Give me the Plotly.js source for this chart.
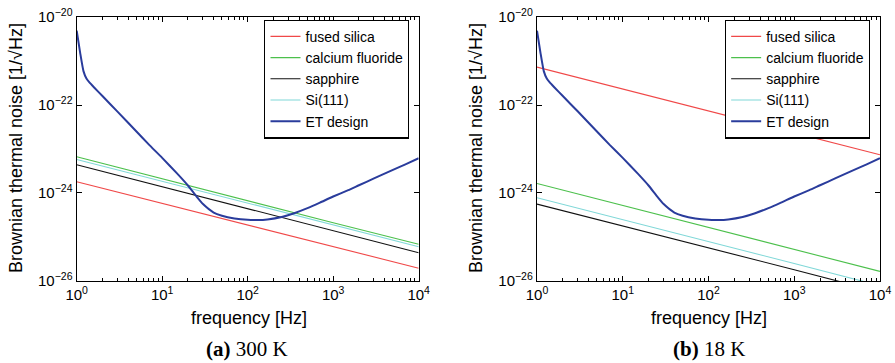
<!DOCTYPE html>
<html>
<head>
<meta charset="utf-8">
<script src="https://cdn.plot.ly/plotly-3.0.1.min.js"></script>
<style>html,body{margin:0;padding:0;background:#fff;}#chart{width:895px;height:363px;}</style>
</head>
<body>
<div id="chart"></div>
<script>
// ---- data ----
const seriesNames = ["fused silica", "calcium fluoride", "sapphire", "Si(111)", "ET design"];
const freqLine = [1, 10, 100, 1000, 10000];

// (a) 300 K
const fusedSilica300 = [1.8e-24, 5.8e-25, 1.9e-25, 6.0e-26, 1.95e-26];
const calciumFluoride300 = [6.7e-24, 2.1e-24, 6.7e-25, 2.1e-25, 6.8e-26];
const sapphire300 = [4.4e-24, 1.4e-24, 4.4e-25, 1.4e-25, 4.4e-26];
const si111_300 = [5.8e-24, 1.85e-24, 5.9e-25, 1.9e-25, 6.0e-26];

// (b) 18 K
const fusedSilica18 = [7.3e-22, 2.3e-22, 7.3e-23, 2.3e-23, 7.4e-24];
const calciumFluoride18 = [1.65e-24, 5.2e-25, 1.65e-25, 5.2e-26, 1.65e-26];
const sapphire18 = [5.6e-25, 1.8e-25, 5.6e-26, 1.8e-26, 5.6e-27];
const si111_18 = [7.8e-25, 2.5e-25, 7.8e-26, 2.5e-26, 7.8e-27];

// ET design sensitivity (same in both panels)
const freqET = [1, 1.1, 1.2, 1.3, 1.4, 1.6, 2, 3, 5, 7, 10, 15, 20, 25, 30, 40, 50, 70, 100, 130, 170, 250, 350, 500, 700, 1000, 1500, 2000, 3000, 5000, 7000, 10000];
const etDesign = [4.9e-21, 1.5e-21, 5.9e-22, 4.0e-22, 3.3e-22, 2.5e-22, 1.6e-22, 7.1e-23, 2.5e-23, 1.26e-23,
                  6.3e-24, 2.75e-24, 1.48e-24, 8.5e-25, 5.6e-25, 3.6e-25, 3.05e-25, 2.64e-25, 2.45e-25, 2.43e-25,
                  2.51e-25, 2.85e-25, 3.47e-25, 4.52e-25, 6.03e-25, 8.32e-25, 1.16e-24, 1.50e-24, 2.14e-24, 3.35e-24,
                  4.47e-24, 6.17e-24];

const xTickVals = [1, 10, 100, 1000, 10000];
const xTickText = ["10<sup>0</sup>", "10<sup>1</sup>", "10<sup>2</sup>", "10<sup>3</sup>", "10<sup>4</sup>"];
const yTickVals = [1e-26, 1e-24, 1e-22, 1e-20];
const yTickText = ["10<sup>−26</sup>", "10<sup>−24</sup>", "10<sup>−22</sup>", "10<sup>−20</sup>"];
const minorVals = [];
[1, 10, 100, 1000].forEach(d => { for (let k = 2; k <= 9; k++) minorVals.push(d * k); });

const colors = ["#f04848", "#4cc04c", "#111111", "#80d8d8", "#2a3c9c"];
const widths = [1.1, 1.1, 1.1, 1.1, 2];

function panel(vals, xa, ya, leg) {
  return vals.map((v, i) => ({
    x: i === 4 ? freqET : freqLine,
    y: v,
    name: seriesNames[i],
    type: "scatter",
    mode: "lines",
    line: {color: colors[i], width: widths[i], shape: i === 4 ? "spline" : "linear", smoothing: 0.5},
    xaxis: xa, yaxis: ya, legend: leg,
    hoverinfo: "x+y+name"
  }));
}

const traces = [].concat(
  panel([fusedSilica300, calciumFluoride300, sapphire300, si111_300, etDesign], "x", "y", "legend"),
  panel([fusedSilica18, calciumFluoride18, sapphire18, si111_18, etDesign], "x2", "y2", "legend2")
);

const tickFont = {family: "Liberation Sans, Arial, sans-serif", size: 15, color: "#000"};
const legFont = {family: "Liberation Sans, Arial, sans-serif", size: 14, color: "#000"};
function xAxis(domain, anchor) {
  return {
    type: "log", domain: domain, anchor: anchor, range: [0, 4],
    tickmode: "array", tickvals: xTickVals, ticktext: xTickText,
    ticks: "inside", ticklen: 5, tickwidth: 1, tickcolor: "#000",
    minor: {tickmode: "array", tickvals: minorVals, ticks: "inside", ticklen: 3, tickcolor: "#000", showgrid: false},
    showline: true, linecolor: "#000", linewidth: 1.2, mirror: "allticks",
    showgrid: false, zeroline: false, tickfont: tickFont
  };
}
function yAxis(domain, anchor) {
  return {
    type: "log", domain: domain, anchor: anchor, range: [-26, -20],
    tickmode: "array", tickvals: yTickVals, ticktext: yTickText,
    ticks: "inside", ticklen: 5, tickwidth: 1, tickcolor: "#000",
    showline: true, linecolor: "#000", linewidth: 1.2, mirror: "allticks",
    showgrid: false, zeroline: false, tickfont: tickFont
  };
}
const legendStyle = (x) => ({
  x: x, y: 0.946, xanchor: "left", yanchor: "top",
  bgcolor: "#fff", bordercolor: "#000", borderwidth: 1.2,
  font: legFont, tracegroupgap: 0, itemwidth: 30
});

const titleFont = {family: "Liberation Sans, Arial, sans-serif", size: 18, color: "#000"};
const capFont = {family: "Liberation Serif, DejaVu Serif, serif", size: 21, color: "#000"};
const yDom = [0.226, 0.953];

const layout = {
  width: 895, height: 363,
  margin: {l: 0, r: 0, t: 0, b: 0},
  paper_bgcolor: "#fff", plot_bgcolor: "#fff",
  showlegend: true,
  xaxis: xAxis([0.0857, 0.4678], "y"),
  yaxis: yAxis(yDom, "x"),
  xaxis2: xAxis([0.6, 0.9832], "y2"),
  yaxis2: yAxis(yDom, "x2"),
  legend: legendStyle(0.2953),
  legend2: legendStyle(0.810),
  annotations: [
    {text: "frequency [Hz]", x: 249, y: 318, showarrow: false, font: titleFont},
    {text: "frequency [Hz]", x: 709, y: 318, showarrow: false, font: titleFont},
    {text: "Brownian thermal noise [1/√Hz]", x: 16, y: 148, textangle: -90, showarrow: false, font: titleFont},
    {text: "Brownian thermal noise [1/√Hz]", x: 476, y: 148, textangle: -90, showarrow: false, font: titleFont},
    {text: "<b>(a)</b> 300 K", x: 247, y: 349, showarrow: false, font: capFont},
    {text: "<b>(b)</b> 18 K", x: 709, y: 349, showarrow: false, font: capFont}
  ].map(a => {
    // convert pixel positions to paper coordinates
    const o = Object.assign({xref: "paper", yref: "paper", xanchor: "center", yanchor: "middle"}, a);
    o.x = o.x / 895;
    o.y = 1 - o.y / 363;
    return o;
  })
};

Plotly.newPlot("chart", traces, layout, {displayModeBar: false, staticPlot: true});
</script>
</body>
</html>
